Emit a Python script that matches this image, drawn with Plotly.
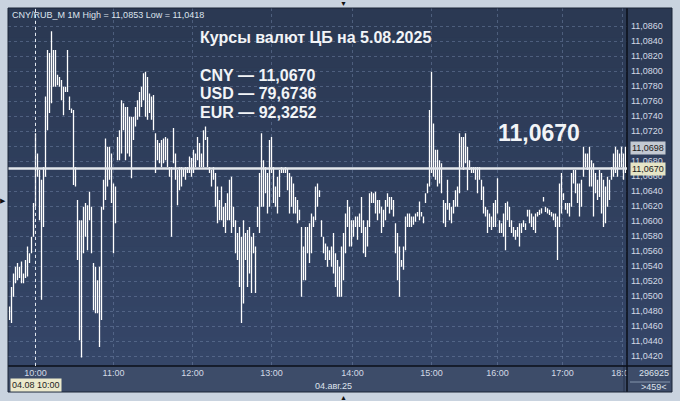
import plotly.graph_objects as go

# 1-minute bars CNY/RUB_M, 04.08.25 (high / low per bar)
high = [
    11.0486, 11.0512, 11.0530, 11.0539, 11.0544, 11.0539, 11.0546, 11.0530, 11.0548, 11.0566,
    11.0557, 11.0579, 11.0624, 11.0717, 11.0690, 11.0668, 11.0655, 11.0672, 11.0766, 11.0828,
    11.0824, 11.0853, 11.0828, 11.0828, 11.0795, 11.0792, 11.0788, 11.0779, 11.0779, 11.0828,
    11.0766, 11.0750, 11.0748, 11.0672, 11.0628, 11.0601, 11.0601, 11.0619, 11.0624, 11.0621,
    11.0639, 11.0619, 11.0544, 11.0539, 11.0521, 11.0539, 11.0619, 11.0655, 11.0710, 11.0699,
    11.0699, 11.0690, 11.0650, 11.0646, 11.0712, 11.0721, 11.0761, 11.0757, 11.0752, 11.0752,
    11.0739, 11.0739, 11.0739, 11.0752, 11.0761, 11.0772, 11.0779, 11.0797, 11.0799, 11.0792,
    11.0770, 11.0766, 11.0768, 11.0717, 11.0708, 11.0704, 11.0708, 11.0710, 11.0712, 11.0710,
    11.0672, 11.0672, 11.0724, 11.0690, 11.0668, 11.0672, 11.0672, 11.0670, 11.0672, 11.0672,
    11.0686, 11.0684, 11.0695, 11.0690, 11.0712, 11.0704, 11.0690, 11.0721, 11.0726, 11.0712,
    11.0672, 11.0668, 11.0672, 11.0664, 11.0646, 11.0628, 11.0646, 11.0619, 11.0624, 11.0637,
    11.0655, 11.0659, 11.0619, 11.0601, 11.0584, 11.0592, 11.0579, 11.0601, 11.0584, 11.0588,
    11.0592, 11.0579, 11.0584, 11.0566, 11.0619, 11.0664, 11.0717, 11.0681, 11.0672, 11.0664,
    11.0708, 11.0712, 11.0672, 11.0646, 11.0659, 11.0668, 11.0672, 11.0670, 11.0672, 11.0670,
    11.0664, 11.0659, 11.0650, 11.0632, 11.0628, 11.0615, 11.0592, 11.0566, 11.0592, 11.0592,
    11.0597, 11.0610, 11.0606, 11.0646, 11.0650, 11.0641, 11.0601, 11.0579, 11.0570, 11.0566,
    11.0561, 11.0566, 11.0584, 11.0557, 11.0548, 11.0539, 11.0566, 11.0584, 11.0610, 11.0628,
    11.0619, 11.0601, 11.0601, 11.0606, 11.0606, 11.0610, 11.0632, 11.0601, 11.0592, 11.0601,
    11.0637, 11.0639, 11.0637, 11.0639, 11.0628, 11.0628, 11.0619, 11.0615, 11.0628, 11.0637,
    11.0632, 11.0632, 11.0628, 11.0597, 11.0584, 11.0566, 11.0548, 11.0566, 11.0606, 11.0610,
    11.0610, 11.0606, 11.0606, 11.0610, 11.0612, 11.0626, 11.0612, 11.0606, 11.0637, 11.0650,
    11.0748, 11.0799, 11.0730, 11.0695, 11.0695, 11.0681, 11.0677, 11.0628, 11.0624, 11.0655,
    11.0624, 11.0619, 11.0628, 11.0641, 11.0646, 11.0717, 11.0712, 11.0712, 11.0717, 11.0699,
    11.0681, 11.0672, 11.0672, 11.0672, 11.0672, 11.0672, 11.0655, 11.0646, 11.0619, 11.0615,
    11.0610, 11.0606, 11.0624, 11.0628, 11.0657, 11.0601, 11.0597, 11.0610, 11.0624, 11.0626,
    11.0619, 11.0601, 11.0592, 11.0588, 11.0592, 11.0597, 11.0597, 11.0601, 11.0597, 11.0615,
    11.0615, 11.0610, 11.0606, 11.0610, 11.0612, 11.0615, 11.0617, 11.0632, 11.0619, 11.0617,
    11.0615, 11.0612, 11.0610, 11.0610, 11.0606, 11.0650, 11.0664, 11.0637, 11.0624, 11.0624,
    11.0624, 11.0664, 11.0668, 11.0668, 11.0650, 11.0650, 11.0655, 11.0699, 11.0690, 11.0690,
    11.0699, 11.0681, 11.0677, 11.0664, 11.0655, 11.0668, 11.0664, 11.0655, 11.0646, 11.0659,
    11.0655, 11.0672, 11.0690, 11.0699, 11.0695, 11.0690, 11.0699, 11.0690, 11.0699,
]
low = [
    11.0468, 11.0464, 11.0499, 11.0517, 11.0521, 11.0524, 11.0517, 11.0517, 11.0524, 11.0526,
    11.0544, 11.0557, 11.0579, 11.0619, 11.0659, 11.0601, 11.0495, 11.0592, 11.0659, 11.0721,
    11.0744, 11.0757, 11.0779, 11.0779, 11.0781, 11.0779, 11.0761, 11.0741, 11.0772, 11.0772,
    11.0748, 11.0744, 11.0648, 11.0646, 11.0548, 11.0441, 11.0418, 11.0557, 11.0579, 11.0561,
    11.0601, 11.0557, 11.0481, 11.0477, 11.0477, 11.0432, 11.0468, 11.0615, 11.0628, 11.0646,
    11.0655, 11.0624, 11.0557, 11.0597, 11.0681, 11.0681, 11.0690, 11.0721, 11.0681, 11.0690,
    11.0686, 11.0657, 11.0708, 11.0726, 11.0735, 11.0739, 11.0752, 11.0761, 11.0739, 11.0735,
    11.0744, 11.0735, 11.0721, 11.0664, 11.0681, 11.0677, 11.0672, 11.0677, 11.0681, 11.0672,
    11.0659, 11.0579, 11.0677, 11.0655, 11.0621, 11.0641, 11.0646, 11.0659, 11.0655, 11.0664,
    11.0664, 11.0659, 11.0664, 11.0672, 11.0681, 11.0672, 11.0672, 11.0672, 11.0708, 11.0672,
    11.0664, 11.0646, 11.0655, 11.0619, 11.0597, 11.0601, 11.0601, 11.0592, 11.0584, 11.0601,
    11.0601, 11.0584, 11.0592, 11.0557, 11.0548, 11.0512, 11.0464, 11.0490, 11.0548, 11.0512,
    11.0530, 11.0504, 11.0557, 11.0504, 11.0592, 11.0584, 11.0619, 11.0619, 11.0637, 11.0610,
    11.0619, 11.0664, 11.0624, 11.0619, 11.0610, 11.0632, 11.0664, 11.0664, 11.0664, 11.0641,
    11.0610, 11.0619, 11.0610, 11.0610, 11.0597, 11.0601, 11.0499, 11.0521, 11.0521, 11.0557,
    11.0544, 11.0557, 11.0592, 11.0601, 11.0619, 11.0632, 11.0579, 11.0557, 11.0548, 11.0539,
    11.0548, 11.0539, 11.0530, 11.0512, 11.0499, 11.0499, 11.0499, 11.0521, 11.0557, 11.0592,
    11.0566, 11.0566, 11.0579, 11.0592, 11.0575, 11.0592, 11.0584, 11.0557, 11.0552, 11.0566,
    11.0592, 11.0624, 11.0624, 11.0610, 11.0601, 11.0610, 11.0584, 11.0592, 11.0601, 11.0619,
    11.0610, 11.0615, 11.0606, 11.0557, 11.0521, 11.0499, 11.0539, 11.0535, 11.0561, 11.0592,
    11.0592, 11.0592, 11.0595, 11.0599, 11.0606, 11.0601, 11.0606, 11.0597, 11.0624, 11.0637,
    11.0646, 11.0664, 11.0659, 11.0655, 11.0646, 11.0650, 11.0637, 11.0597, 11.0592, 11.0615,
    11.0601, 11.0597, 11.0610, 11.0619, 11.0619, 11.0637, 11.0672, 11.0668, 11.0677, 11.0641,
    11.0668, 11.0664, 11.0664, 11.0655, 11.0637, 11.0655, 11.0628, 11.0610, 11.0606, 11.0584,
    11.0592, 11.0588, 11.0592, 11.0592, 11.0610, 11.0584, 11.0584, 11.0579, 11.0561, 11.0601,
    11.0592, 11.0584, 11.0579, 11.0575, 11.0579, 11.0566, 11.0584, 11.0592, 11.0588, 11.0606,
    11.0597, 11.0592, 11.0588, 11.0584, 11.0606, 11.0608, 11.0610, 11.0626, 11.0612, 11.0610,
    11.0608, 11.0606, 11.0601, 11.0592, 11.0548, 11.0592, 11.0610, 11.0628, 11.0615, 11.0610,
    11.0606, 11.0619, 11.0650, 11.0637, 11.0624, 11.0606, 11.0619, 11.0659, 11.0672, 11.0668,
    11.0646, 11.0646, 11.0606, 11.0637, 11.0628, 11.0632, 11.0610, 11.0592, 11.0597, 11.0619,
    11.0628, 11.0655, 11.0659, 11.0664, 11.0659, 11.0672, 11.0672, 11.0655, 11.0664,
]

hour_labels = ['10:00', '11:00', '12:00', '13:00', '14:00', '15:00', '16:00', '17:00', '18:00']
hour_bars = [13, 52, 91.5, 131, 171.5, 211, 244, 276.5, 306.5]
price_ticks = [round(11.042 + 0.002 * i, 4) for i in range(23)]

last_price = 11.0670
marker_price = 11.0698
cb_codes = ['CNY', 'USD', 'EUR']
cb_values = ['11,0670', '79,6736', '92,3252']

FONT = 'Liberation Sans, Arial, sans-serif'
W, H = 680, 401
L, R, T, B = 8, 627, 8, 366   # plot area in pixels
RIGHT_EDGE, BOTTOM_EDGE = 672, 392


def xp(px):
    return (px - L) / (R - L)


def yp(py):
    return (B - py) / (B - T)


# bars as vertical segments
xs, ys = [], []
for i, (h, l) in enumerate(zip(high, low)):
    xs += [i, i, None]
    ys += [l, h, None]

fig = go.Figure(go.Scatter(x=xs, y=ys, mode='lines',
                           line=dict(color='#ffffff', width=1.3), hoverinfo='skip'))

shapes = []
# dark panel with a soft vertical gradient
n = 24
top_c, bot_c = (43, 57, 83), (53, 70, 104)
for i in range(n):
    f = i / (n - 1)
    c = tuple(int(top_c[j] + (bot_c[j] - top_c[j]) * f) for j in range(3))
    shapes.append(dict(type='rect', xref='paper', yref='paper', layer='below',
                       x0=xp(L), x1=xp(RIGHT_EDGE),
                       y0=yp(T + (B - T) * (i + 1) / n) - 0.002, y1=yp(T + (B - T) * i / n),
                       fillcolor='rgb(%d,%d,%d)' % c, line_width=0))
# time axis strip
shapes.append(dict(type='rect', xref='paper', yref='paper', layer='below',
                   x0=0, x1=xp(RIGHT_EDGE), y0=yp(BOTTOM_EDGE), y1=0,
                   fillcolor='#3d4c69', line_width=0))
# bottom-right counter cell (covers the clipped 18:00 label)
shapes.append(dict(type='rect', xref='paper', yref='paper', layer='above',
                   x0=1, x1=xp(RIGHT_EDGE), y0=yp(BOTTOM_EDGE), y1=0,
                   fillcolor='#3d4c69', line_width=0))
shapes.append(dict(type='line', xref='paper', yref='paper', layer='above',
                   x0=xp(630), x1=xp(670), y0=yp(382), y1=yp(382),
                   line=dict(color='#8595ad', width=1)))
shapes.append(dict(type='line', xref='paper', yref='paper', layer='above',
                   x0=xp(624), x1=xp(624), y0=yp(BOTTOM_EDGE), y1=0,
                   line=dict(color='#26314a', width=1)))
# separators
shapes.append(dict(type='line', xref='paper', yref='paper', layer='above',
                   x0=1, x1=1, y0=yp(BOTTOM_EDGE), y1=1,
                   line=dict(color='#0b0f18', width=1.5)))
shapes.append(dict(type='line', xref='paper', yref='paper', layer='above',
                   x0=0, x1=xp(RIGHT_EDGE), y0=0, y1=0,
                   line=dict(color='#0b0f18', width=1.5)))
# session start and last price lines
shapes.append(dict(type='line', xref='x', yref='paper', layer='above',
                   x0=hour_bars[0], x1=hour_bars[0], y0=0, y1=1,
                   line=dict(color='#e4e9f0', width=1, dash='dot')))
shapes.append(dict(type='line', xref='paper', yref='y', layer='above',
                   x0=0, x1=1, y0=last_price, y1=last_price,
                   line=dict(color='#e3e7ec', width=2.5)))
# outer border
shapes.append(dict(type='rect', xref='paper', yref='paper', layer='above',
                   x0=0, x1=xp(RIGHT_EDGE), y0=yp(BOTTOM_EDGE), y1=1,
                   line=dict(color='#1b2436', width=1)))

ann = []


def txt(text, x, y, size=9, color='#dde3ec', anchor='left', **kw):
    ann.append(dict(text=text, x=xp(x), y=yp(y), xref='paper', yref='paper',
                    xanchor=anchor, yanchor='middle', showarrow=False,
                    font=dict(family=FONT, size=size, color=color), **kw))


txt('CNY/RUB_M 1M High = 11,0853 Low = 11,0418', 10, 15, size=9)
txt('<b>Курсы валют ЦБ на 5.08.2025</b>', 198, 38, size=16, color='#f2f4f7')
for i, (code, val) in enumerate(zip(cb_codes, cb_values)):
    txt('<b>%s — %s</b>' % (code, val), 198, 75 + 18.5 * i, size=16, color='#f2f4f7')
txt('<b>11,0670</b>', 496, 133, size=23, color='#f2f4f7')

# price tags on the right scale
for price, bg in [(marker_price, '#c3c9d2'), (last_price, '#e6e5c6')]:
    ann.append(dict(text=('%.4f' % price).replace('.', ','), x=xp(630), y=price,
                    xref='paper', yref='y', xanchor='left', yanchor='middle',
                    showarrow=False, bgcolor=bg, borderpad=1,
                    font=dict(family=FONT, size=9, color='#1a1a1a')))

txt('04.08 10:00', 10, 385, size=9, color='#1e1e1e', bgcolor='#ece9cc', borderpad=1)
txt('04.авг.25', 313, 386, size=9)
txt('296925', 654, 373, size=9, anchor='center')
txt('>459<', 654, 387, size=9, anchor='center')
txt('▼', 343, 3, size=7, color='#111111', anchor='center')
txt('▲', 343, 397, size=7, color='#111111', anchor='center')
txt('▶', 3, 200, size=7, color='#111111', anchor='center')

fig.update_layout(
    width=W, height=H,
    margin=dict(l=L, r=W - R, t=T, b=H - B, pad=0),
    paper_bgcolor='#c9d3df',
    plot_bgcolor='#303f5c',
    separators=', ',
    showlegend=False,
    shapes=shapes,
    annotations=ann,
    # range offset by a quarter bar so 1px bars sit on pixel centres
    xaxis=dict(range=[-0.75, 308.75], tickvals=hour_bars, ticktext=hour_labels,
               showgrid=True, gridcolor='rgba(120,140,175,0.45)', griddash='dot',
               gridwidth=1, zeroline=False, showline=False, ticks='',
               tickfont=dict(family=FONT, size=9, color='#d3dae5'), fixedrange=True),
    yaxis=dict(side='right', range=[11.04067, 11.0884], tickvals=price_ticks,
               tickformat='.4f', showgrid=True, gridcolor='rgba(120,140,175,0.45)',
               griddash='dot', gridwidth=1, zeroline=False, showline=False, ticks='',
               ticklabelstandoff=3,
               tickfont=dict(family=FONT, size=9, color='#d3dae5'), fixedrange=True),
)

fig.write_html('out.html', config={'displayModeBar': False},
               post_script="document.body.style.margin='0px';")
